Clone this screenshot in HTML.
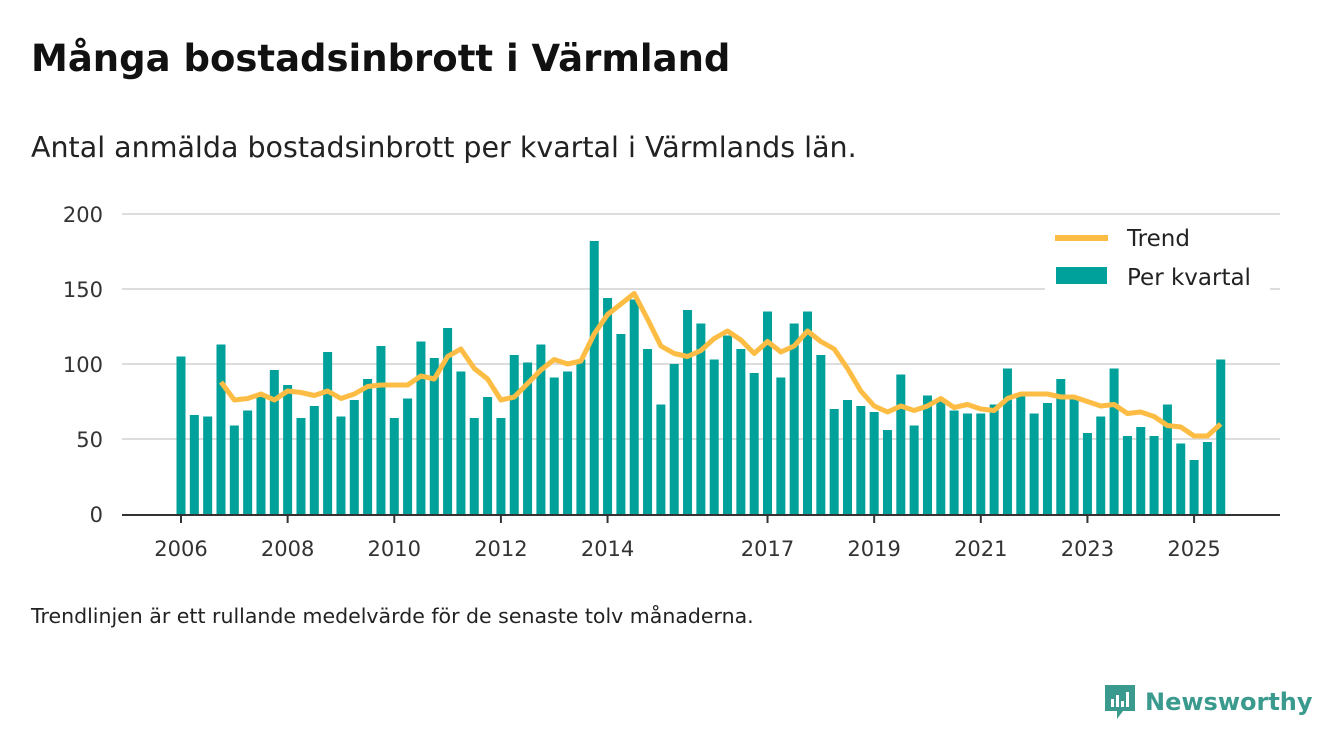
<!DOCTYPE html>
<html><head><meta charset="utf-8">
<style>
body{margin:0;background:#fff;font-family:"DejaVu Sans","Liberation Sans",sans-serif;}
#wrap{position:relative;width:1340px;height:753px;overflow:hidden;}
h1{position:absolute;left:31px;top:37px;margin:0;font-size:37px;font-weight:bold;color:#111;white-space:nowrap;}
.sub{position:absolute;left:31px;top:131px;font-size:28.5px;color:#222;white-space:nowrap;}
.note{position:absolute;left:31px;top:604px;font-size:20.5px;color:#222;white-space:nowrap;}
.logo{position:absolute;left:1103px;top:683px;display:flex;align-items:center;gap:8px;font-size:24px;font-weight:bold;color:#3a9a8e;}
</style></head><body>
<div id="wrap">
<h1>Många bostadsinbrott i Värmland</h1>
<div class="sub">Antal anmälda bostadsinbrott per kvartal i Värmlands län.</div>
<svg id="chart" width="1340" height="753" style="position:absolute;left:0;top:0"></svg>
<div class="note">Trendlinjen är ett rullande medelvärde för de senaste tolv månaderna.</div>
<div class="logo">
<svg width="34" height="38" viewBox="0 0 34 38"><path d="M2 2h30v26H20l-6 8v-8H2z" fill="#3a9a8e"/><rect x="8" y="16" width="3" height="8" fill="#fff"/><rect x="13" y="12" width="3" height="12" fill="#fff"/><rect x="18" y="18" width="3" height="6" fill="#fff"/><rect x="23" y="9" width="3" height="15" fill="#fff"/></svg>
<span>Newsworthy</span></div>
</div>
<script>
const bars=[105,66,65,113,59,69,78,96,86,64,72,108,65,76,90,112,64,77,115,104,124,95,64,78,64,106,101,113,91,95,103,182,144,120,143,110,73,100,136,127,103,119,110,94,135,91,127,135,106,70,76,72,68,56,93,59,79,76,69,67,67,73,97,80,67,74,90,78,54,65,97,52,58,52,73,47,36,48,103];
const trend=[88,76,77,80,76,82,81,79,82,77,80,85,86,86,86,92,90,105,110,97,90,76,78,87,96,103,100,102,120,133,140,147,130,112,107,105,109,117,122,116,107,115,108,112,122,115,110,97,82,72,68,72,69,72,77,71,73,70,69,77,80,80,80,78,78,75,72,73,67,68,65,59,58,52,52,60];
const trendStart=3;
const yTicks=[0,50,100,150,200];
const xLabels=[["2006",0],["2008",8],["2010",16],["2012",24],["2014",32],["2017",44],["2019",52],["2021",60],["2023",68],["2025",76]];
const svg=document.getElementById('chart');const NS='http://www.w3.org/2000/svg';
function y(v){return 514-v*1.5;}
function x(i){return 181+i*13.33;}
function mk(t,a,txt){const e=document.createElementNS(NS,t);for(const k in a)e.setAttribute(k,a[k]);if(txt!=null)e.textContent=txt;svg.appendChild(e);return e;}
yTicks.forEach(v=>{
 if(v>0){const g=mk('line',{x1:122,x2:1280,y1:y(v),y2:y(v),stroke:'#ddd','stroke-width':2});
 
 }
 const t=mk('text',{x:103,y:y(v)+8,'text-anchor':'end','font-size':21,fill:'#333'},v);
 
 
});
bars.forEach((v,i)=>{
 const r=mk('rect',{x:x(i)-4.5,y:y(v),width:9,height:v*1.5,fill:'#00a19a'});
 
 
});
const ax=mk('line',{x1:122,x2:1280,y1:515,y2:515,stroke:'#333','stroke-width':2});


xLabels.forEach(([l,i])=>{
 const tk=mk('line',{x1:x(i),x2:x(i),y1:515,y2:523,stroke:'#333','stroke-width':2});
 
 
 const t=mk('text',{x:x(i),y:556,'text-anchor':'middle','font-size':21,fill:'#333'},l);
 
 
});
const pts=trend.map((v,j)=>x(j+trendStart).toFixed(1)+','+y(v).toFixed(1)).join(' ');
const pl=mk('polyline',{points:pts,fill:'none',stroke:'#fdbd45','stroke-width':5,'stroke-linejoin':'round'});


const lb=mk('rect',{x:1045,y:222,width:225,height:70,fill:'#fff'});


const l1=mk('line',{x1:1055,x2:1108,y1:238,y2:238,stroke:'#fdbd45','stroke-width':6});


const t1=mk('text',{x:1127,y:246,'font-size':23,fill:'#222'},'Trend');


const s2=mk('rect',{x:1056,y:267,width:51,height:17,fill:'#00a19a'});


const t2=mk('text',{x:1127,y:285,'font-size':23,fill:'#222'},'Per kvartal');


</script>
</body></html>
